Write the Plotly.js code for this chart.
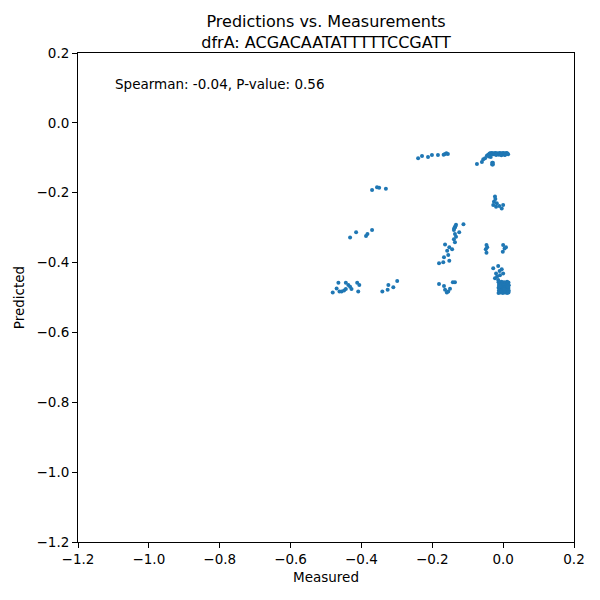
<!DOCTYPE html>
<html>
<head>
<meta charset="utf-8">
<script src="https://cdn.plot.ly/plotly-3.0.1.min.js"></script>
<style>
  html, body { margin: 0; padding: 0; background: #fff; }
  #chart { width: 600px; height: 600px; }
</style>
</head>
<body>
<div id="chart"></div>
<script>
// Predictions vs. measurements scatter for one guide sequence.

const guide = "ACGACAATATTTTTCCGATT";
const spearman = -0.04;
const pValue = 0.56;

// upper band around -0.09 (right group) plus its left tail
const bandX = [-0.074, -0.060, -0.056, -0.051, -0.046, -0.043, -0.040, -0.038, -0.036, -0.034, -0.032,
  -0.030, -0.028, -0.026, -0.024, -0.022, -0.020, -0.018, -0.016, -0.014, -0.012, -0.010, -0.008,
  -0.006, -0.004, -0.002, 0.000, 0.002, 0.004, 0.006, 0.008, 0.010, 0.012, 0.014, -0.040, -0.035,
  -0.020, -0.005, 0.005, -0.031, -0.029, -0.031, -0.029];
const bandY = [-0.118, -0.112, -0.104, -0.101, -0.094, -0.092, -0.090, -0.088, -0.087, -0.089, -0.086,
  -0.088, -0.090, -0.087, -0.089, -0.086, -0.088, -0.090, -0.087, -0.089, -0.091, -0.086, -0.088,
  -0.090, -0.087, -0.089, -0.086, -0.088, -0.091, -0.087, -0.089, -0.086, -0.088, -0.090, -0.096,
  -0.098, -0.092, -0.093, -0.092, -0.114, -0.114, -0.119, -0.119];

// upper band left group
const topLeftX = [-0.240, -0.229, -0.212, -0.201, -0.184, -0.164, -0.156, -0.160, -0.168];
const topLeftY = [-0.101, -0.095, -0.098, -0.092, -0.092, -0.089, -0.089, -0.087, -0.091];

// middle-left groups
const midX = [-0.370, -0.356, -0.350, -0.331, -0.432, -0.415, -0.387, -0.383, -0.370];
const midY = [-0.192, -0.184, -0.186, -0.189, -0.328, -0.313, -0.324, -0.318, -0.307];

// column near x = -0.14
const colX = [-0.112, -0.133, -0.136, -0.139, -0.124, -0.136, -0.133, -0.139, -0.136, -0.164, -0.152,
  -0.144, -0.158, -0.155, -0.167, -0.152, -0.169, -0.181, -0.135, -0.138];
const colY = [-0.290, -0.292, -0.299, -0.307, -0.313, -0.318, -0.326, -0.333, -0.342, -0.348, -0.356,
  -0.362, -0.366, -0.378, -0.385, -0.395, -0.399, -0.402, -0.296, -0.302];

// cluster near x = 0
const zeroX = [-0.023, -0.026, -0.028, -0.020, -0.011, -0.004, 0.000, -0.022, -0.018,
  -0.047, -0.049, -0.047, -0.045, 0.000, 0.008, -0.001, 0.004,
  -0.028, -0.014, -0.004, 0.000, -0.020, -0.009, -0.023, -0.014, -0.010, -0.017];
const zeroY = [-0.211, -0.226, -0.235, -0.240, -0.238, -0.245, -0.235, -0.218, -0.230,
  -0.350, -0.362, -0.372, -0.356, -0.350, -0.356, -0.369, -0.360,
  -0.416, -0.410, -0.419, -0.431, -0.431, -0.436, -0.445, -0.450, -0.424, -0.440];

// dense block near (0, -0.47)
const blockX = [-0.013, -0.009, -0.005, -0.001, 0.003, 0.007, 0.011, 0.015, -0.012, -0.008, -0.004,
  0.000, 0.004, 0.008, 0.012, 0.016, -0.013, -0.009, -0.005, -0.001, 0.003, 0.007, 0.011, 0.015,
  -0.012, -0.008, -0.004, 0.000, 0.004, 0.008, 0.012, 0.016, -0.013, -0.007, -0.001, 0.005, 0.011,
  0.015, -0.010, 0.002, 0.013];
const blockY = [-0.456, -0.458, -0.455, -0.457, -0.456, -0.458, -0.455, -0.457, -0.464, -0.466, -0.463,
  -0.465, -0.464, -0.466, -0.463, -0.465, -0.472, -0.474, -0.471, -0.473, -0.472, -0.474, -0.471,
  -0.473, -0.480, -0.482, -0.479, -0.481, -0.480, -0.482, -0.479, -0.481, -0.487, -0.486, -0.487,
  -0.486, -0.487, -0.486, -0.468, -0.476, -0.469];

// bottom groups around y = -0.47
const lowX = [-0.481, -0.470, -0.465, -0.462, -0.456, -0.449, -0.444, -0.444, -0.437, -0.432, -0.428,
  -0.412, -0.406, -0.409, -0.341, -0.326, -0.324, -0.310, -0.299,
  -0.181, -0.167, -0.164, -0.159, -0.150, -0.142, -0.136, -0.155];
const lowY = [-0.486, -0.474, -0.458, -0.483, -0.483, -0.480, -0.458, -0.476, -0.464, -0.469, -0.476,
  -0.458, -0.464, -0.483, -0.483, -0.478, -0.464, -0.471, -0.453,
  -0.461, -0.467, -0.478, -0.486, -0.475, -0.456, -0.456, -0.483];

const xs = [].concat(bandX, topLeftX, midX, colX, zeroX, blockX, lowX);
const ys = [].concat(bandY, topLeftY, midY, colY, zeroY, blockY, lowY);

const font = { family: "DejaVu Sans, sans-serif", size: 13.5, color: "#000" };
const axis = {
  range: [-1.2, 0.2], tick0: -1.2, dtick: 0.2, tickformat: ".1f",
  showgrid: false, zeroline: false, showline: true, mirror: true,
  linecolor: "#000", linewidth: 1, ticks: "outside", ticklen: 5, tickcolor: "#000",
  tickfont: font,
};

Plotly.newPlot("chart", [{
  type: "scatter", mode: "markers", x: xs, y: ys,
  marker: { color: "#1f77b4", size: 4, line: { width: 0 } },
  hoverinfo: "x+y",
}], {
  width: 600, height: 600,
  margin: { l: 78, r: 26, t: 53, b: 58 },
  paper_bgcolor: "#fff", plot_bgcolor: "#fff",
  showlegend: false,
  font: font,
  title: {
    text: "Predictions vs. Measurements<br>dfrA: " + guide,
    font: { family: "DejaVu Sans, sans-serif", size: 16, color: "#000" },
    x: 0.5, xref: "paper", xanchor: "center",
    y: 0.955, yref: "container", yanchor: "top",
  },
  xaxis: Object.assign({}, axis, { title: { text: "Measured", font: font, standoff: 6 } }),
  yaxis: Object.assign({}, axis, { title: { text: "Predicted", font: font, standoff: 8 } }),
  annotations: [{
    text: `Spearman: ${spearman.toFixed(2)}, P-value: ${pValue.toFixed(2)}`,
    x: -1.101, y: 0.111, xref: "x", yref: "y", xanchor: "left", yanchor: "middle",
    showarrow: false, font: font,
  }],
}, { displayModeBar: false, staticPlot: true });
</script>
</body>
</html>
